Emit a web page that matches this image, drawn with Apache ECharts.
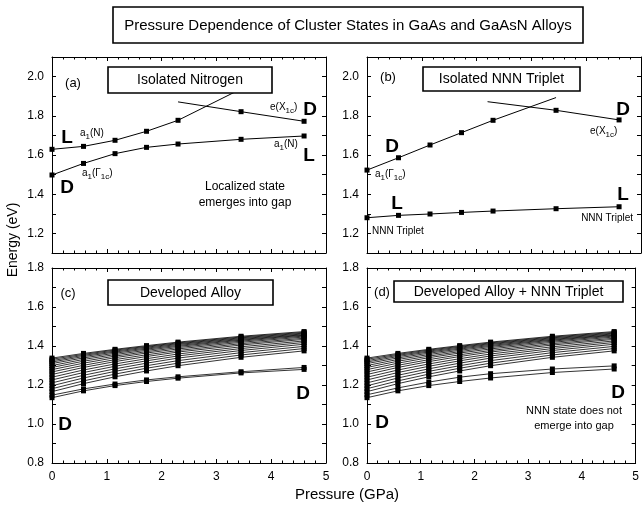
<!DOCTYPE html>
<html>
<head>
<meta charset="utf-8">
<script src="https://cdn.jsdelivr.net/npm/echarts@6/dist/echarts.min.js"></script>
<style>
  html, body { margin: 0; padding: 0; background: #fff; }
  #chart { width: 642px; height: 510px; }
</style>
</head>
<body>
<div id="chart"></div>
<script>
// pressure points (GPa)
const pressure = [0, 0.575, 1.15, 1.725, 2.3, 3.45, 4.6];

// (a) isolated nitrogen
const aUpper = [1.629, 1.644, 1.675, 1.721, 1.777];
const aUpperEnd = [3.4, 1.93];
const aLower = [1.498, 1.557, 1.607, 1.639, 1.656, 1.680, 1.697];
const aXStart = [2.3, 1.871];
const aX = [1.821, 1.772];

// (b) isolated NNN triplet
const bUpper = [1.523, 1.586, 1.651, 1.714, 1.777];
const bUpperEnd = [3.45, 1.893];
const bXStart = [2.2, 1.872];
const bX = [1.828, 1.779];
const bTriplet = [1.280, 1.292, 1.299, 1.307, 1.314, 1.326, 1.336];

// (c) developed alloy - band of states
const alloy = [
  [1.338, 1.362, 1.383, 1.402, 1.420, 1.450, 1.474],
  [1.332, 1.357, 1.379, 1.398, 1.416, 1.446, 1.470],
  [1.325, 1.352, 1.374, 1.394, 1.412, 1.442, 1.466],
  [1.318, 1.346, 1.369, 1.389, 1.408, 1.438, 1.462],
  [1.310, 1.339, 1.363, 1.384, 1.403, 1.434, 1.458],
  [1.300, 1.331, 1.356, 1.378, 1.398, 1.430, 1.455],
  [1.290, 1.322, 1.348, 1.371, 1.392, 1.425, 1.451],
  [1.279, 1.312, 1.340, 1.364, 1.385, 1.419, 1.446],
  [1.267, 1.301, 1.330, 1.355, 1.377, 1.412, 1.440],
  [1.254, 1.290, 1.320, 1.346, 1.369, 1.405, 1.434],
  [1.240, 1.277, 1.308, 1.335, 1.359, 1.396, 1.426],
  [1.226, 1.264, 1.296, 1.324, 1.349, 1.387, 1.418],
  [1.211, 1.250, 1.283, 1.312, 1.338, 1.377, 1.409],
  [1.196, 1.236, 1.270, 1.299, 1.325, 1.366, 1.398],
  [1.181, 1.221, 1.256, 1.286, 1.312, 1.354, 1.387],
  [1.166, 1.207, 1.242, 1.272, 1.299, 1.342, 1.375]
];
const alloyLowA = [1.148, 1.180, 1.205, 1.226, 1.242, 1.268, 1.290];
const alloyLowB = [1.135, 1.170, 1.197, 1.218, 1.235, 1.262, 1.280];

// (d) developed alloy + NNN triplet
const nnnLowA = [1.150, 1.185, 1.215, 1.240, 1.258, 1.282, 1.298];
const nnnLowB = [1.135, 1.170, 1.197, 1.218, 1.236, 1.264, 1.282];

const FONT = '"Liberation Sans", Arial, sans-serif';
const chart = echarts.init(document.getElementById('chart'));

const grids = [
  {left: 52, top: 57, width: 274, height: 196},
  {left: 367, top: 57, width: 274, height: 196},
  {left: 52, top: 268, width: 274, height: 195},
  {left: 367, top: 268, width: 274, height: 195}
];

const xAxes = [], yAxes = [];
grids.forEach((g, i) => {
  const top = i < 2;
  const tick = {show: true, inside: true, length: 4, lineStyle: {color: '#000'}};
  const minor = {show: true, splitNumber: 5, length: 2.5, lineStyle: {color: '#000'}};
  xAxes.push({
    gridIndex: i, type: 'value', min: 0, max: 5, interval: 1, position: 'bottom',
    axisLine: {onZero: false, lineStyle: {color: '#000', width: 1}},
    axisTick: tick, minorTick: minor, splitLine: {show: false},
    axisLabel: {show: !top, color: '#000', fontSize: 12, fontFamily: FONT, margin: 8}
  });
  xAxes.push({
    gridIndex: i, type: 'value', min: 0, max: 5, interval: 1, position: 'top',
    axisLine: {onZero: false, lineStyle: {color: '#000', width: 1}},
    axisTick: tick, minorTick: minor, splitLine: {show: false}, axisLabel: {show: false}
  });
  const yBase = top
    ? {min: 1.1, max: 2.1, interval: 0.1}
    : {min: 0.8, max: 1.8, interval: 0.2};
  const fmt = top
    ? v => (Math.round(v * 10) % 2 === 0 && v < 2.05 ? v.toFixed(1) : '')
    : v => v.toFixed(1);
  yAxes.push(Object.assign({
    gridIndex: i, type: 'value', position: 'left',
    axisLine: {onZero: false, lineStyle: {color: '#000', width: 1}},
    axisTick: tick, splitLine: {show: false},
    minorTick: {show: !top, splitNumber: 2, length: 4, lineStyle: {color: '#000'}},
    axisLabel: {color: '#000', fontSize: 12, fontFamily: FONT, margin: 8, formatter: fmt}
  }, yBase));
  yAxes.push(Object.assign({
    gridIndex: i, type: 'value', position: 'right',
    axisLine: {onZero: false, lineStyle: {color: '#000', width: 1}},
    axisTick: tick, splitLine: {show: false},
    minorTick: {show: !top, splitNumber: 2, length: 4, lineStyle: {color: '#000'}},
    axisLabel: {show: false}
  }, yBase));
});

function pts(vals) {
  return vals.map((v, k) => [pressure[k], v]);
}
function ptsFrom(vals, offset) {
  return vals.map((v, k) => [pressure[k + offset], v]);
}
function hidden(p) {
  return {value: p, symbol: 'none'};
}
function line(g, data, width) {
  return {
    type: 'line', xAxisIndex: g * 2, yAxisIndex: g * 2, data: data,
    symbol: 'rect', symbolSize: 5, showSymbol: true,
    lineStyle: {color: '#000', width: width || 1}, itemStyle: {color: '#000'},
    silent: true, animation: false, z: 3
  };
}

const series = [
  line(0, pts(aUpper).concat([hidden(aUpperEnd)])),
  line(0, pts(aLower)),
  line(0, [hidden(aXStart)].concat(ptsFrom(aX, 5))),
  line(1, pts(bUpper).concat([hidden(bUpperEnd)])),
  line(1, [hidden(bXStart)].concat(ptsFrom(bX, 5))),
  line(1, pts(bTriplet))
];
alloy.forEach(s => series.push(line(2, pts(s), 0.8)));
series.push(line(2, pts(alloyLowA), 0.8), line(2, pts(alloyLowB), 0.8));
alloy.forEach(s => series.push(line(3, pts(s), 0.8)));
series.push(line(3, pts(nnnLowA), 0.8), line(3, pts(nnnLowB), 0.8));

// text helpers
const mctx = document.createElement('canvas').getContext('2d');
function txt(x, y, t, size, opts) {
  opts = opts || {};
  return {
    type: 'text', x: x, y: y, z: 120,
    style: {
      text: t, fontSize: size, fontFamily: FONT, fill: '#000',
      fontWeight: opts.bold ? 'bold' : 'normal',
      align: opts.align || 'center', verticalAlign: 'middle'
    }
  };
}
// label with subscripts: parts = [[text, isSub], ...]
function subLabel(x, y, parts, size) {
  const out = [];
  let cx = x;
  parts.forEach(([t, sub]) => {
    const fs = sub ? Math.round(size * 0.8) : size;
    mctx.font = fs + 'px ' + FONT;
    out.push(txt(cx, sub ? y + size * 0.35 : y, t, fs, {align: 'left'}));
    cx += mctx.measureText(t).width;
  });
  return out;
}
function box(x, y, w, h, t, size) {
  return [
    {type: 'rect', z: 110, shape: {x: x, y: y, width: w, height: h},
     style: {fill: '#fff', stroke: '#000', lineWidth: 1.6}},
    txt(x + w / 2, y + h / 2 + 0.5, t, size)
  ];
}

const a1N = [['a', false], ['1', true], ['(N)', false]];
const a1G = [['a', false], ['1', true], ['(\u0393', false], ['1c', true], [')', false]];
const eX = [['e(X', false], ['1c', true], [')', false]];

const graphic = [].concat(
  box(113, 7, 470, 36, 'Pressure Dependence of Cluster States in GaAs and GaAsN Alloys', 15),
  // (a)
  [txt(73, 83, '(a)', 13)],
  box(108, 67, 164, 26, 'Isolated Nitrogen', 14),
  [txt(67, 138, 'L', 19, {bold: true})],
  subLabel(80, 133, a1N, 10),
  [txt(67, 188, 'D', 19, {bold: true})],
  subLabel(82, 173, a1G, 10),
  subLabel(270, 107, eX, 10),
  [txt(310, 110, 'D', 19, {bold: true})],
  subLabel(274, 144, a1N, 10),
  [txt(309, 156, 'L', 19, {bold: true})],
  [txt(245, 187, 'Localized state', 12), txt(245, 203, 'emerges into gap', 12)],
  // (b)
  [txt(388, 77, '(b)', 13)],
  box(423, 67, 157, 24, 'Isolated NNN Triplet', 14),
  [txt(392, 147, 'D', 19, {bold: true})],
  subLabel(375, 174, a1G, 10),
  [txt(397, 204, 'L', 19, {bold: true})],
  [txt(372, 231, 'NNN Triplet', 10, {align: 'left'})],
  [txt(623, 110, 'D', 19, {bold: true})],
  subLabel(590, 131, eX, 10),
  [txt(623, 195, 'L', 19, {bold: true})],
  [txt(633, 218, 'NNN Triplet', 10, {align: 'right'})],
  // (c)
  [txt(68, 293, '(c)', 13)],
  box(108, 280, 165, 25, 'Developed Alloy', 14),
  [txt(65, 425, 'D', 19, {bold: true}), txt(303, 394, 'D', 19, {bold: true})],
  // (d)
  [txt(382, 292, '(d)', 13)],
  box(394, 281, 229, 21, 'Developed Alloy + NNN Triplet', 14),
  [txt(382, 423, 'D', 19, {bold: true}), txt(618, 393, 'D', 19, {bold: true})],
  [txt(574, 411, 'NNN state does not', 11), txt(574, 426, 'emerge into gap', 11)],
  // axis names
  [txt(347, 495, 'Pressure (GPa)', 15)],
  [{type: 'text', x: 13, y: 240, rotation: Math.PI / 2, z: 120,
    style: {text: 'Energy (eV)', fontSize: 14, fontFamily: FONT, fill: '#000',
            align: 'center', verticalAlign: 'middle'}}]
);

chart.setOption({
  backgroundColor: '#fff',
  animation: false,
  grid: grids,
  xAxis: xAxes,
  yAxis: yAxes,
  series: series,
  graphic: graphic
});
</script>
</body>
</html>
